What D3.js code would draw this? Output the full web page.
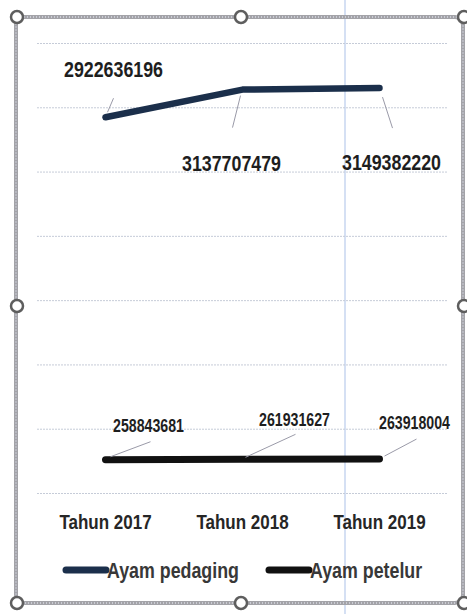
<!DOCTYPE html>
<html>
<head>
<meta charset="utf-8">
<script src="https://cdn.jsdelivr.net/npm/d3@7"></script>
<style>
  body { margin: 0; background: #fff; }
  text { font-family: "Liberation Sans Narrow", "Arial Narrow", "Liberation Sans", sans-serif; font-weight: bold; }
</style>
</head>
<body>
<div id="container"></div>
<script>
/* DATA */
const categories = ["Tahun 2017", "Tahun 2018", "Tahun 2019"];
const pedaging = [2922636196, 3137707479, 3149382220];
const petelur = [258843681, 261931627, 263918004];
const seriesNames = ["Ayam pedaging", "Ayam petelur"];

/* CONSTANTS */
const width = 467, height = 614,
      margin = { top: 43, bottom: 121, left: 37, right: 19 };
// no narrow font installed, so squeeze the text horizontally
const squeeze = 0.81

const svg = d3.select("#container")
  .append("svg")
  .attr("width", width)
  .attr("height", height)

// scales
const x = d3.scaleBand()
  .domain(categories)
  .range([margin.left, width - margin.right])

const y = d3.scaleLinear()
  .domain([0, 3500000000])
  .range([height - margin.bottom, margin.top])

const px = d => x(d) + x.bandwidth() / 2

// spreadsheet column line behind the chart
svg.append("line")
  .attr("x1", 345).attr("x2", 345)
  .attr("y1", 0).attr("y2", height)
  .attr("stroke", "#b9cbec")
  .attr("stroke-width", 1.2)

// gridlines
svg.append("g")
  .attr("transform", `translate(${margin.left},0)`)
  .call(d3.axisLeft(y).ticks(7).tickSize(-(width - margin.left - margin.right)).tickFormat(""))
  .call(g => g.select(".domain").remove())
  .call(g => g.selectAll("line")
    .attr("stroke", "#c6ccd8")
    .attr("stroke-dasharray", "2,1"))

// x axis labels
svg.append("g")
  .attr("transform", `translate(0,${height - margin.bottom})`)
  .call(d3.axisBottom(x).tickSize(0).tickPadding(21))
  .call(g => g.select(".domain").remove())
  .call(g => g.selectAll("text")
    .attr("font-size", "21px")
    .attr("fill", "#262626")
    .attr("transform", `scale(${squeeze},1)`))

const line = d3.line()
  .x((d, i) => px(categories[i]))
  .y(d => y(d))

// Ayam pedaging
svg.append("path")
  .datum(pedaging)
  .attr("d", line)
  .attr("fill", "none")
  .attr("stroke", "#1b2f4b")
  .attr("stroke-width", 6.5)
  .attr("stroke-linecap", "round")
  .attr("stroke-linejoin", "round")

// Ayam petelur
svg.append("path")
  .datum(petelur)
  .attr("d", line)
  .attr("fill", "none")
  .attr("stroke", "#111")
  .attr("stroke-width", 7)
  .attr("stroke-linecap", "round")

// data labels with leader lines
const pedOffsets = [
  { dx: 8, dy: -40, l: [[8, -19], [2, -5]] },
  { dx: -11, dy: 81, l: [[-2, 6], [-10, 38]] },
  { dx: 12, dy: 82, l: [[3, 9], [13, 40]] }
]
const petOffsets = [
  { dx: 43, dy: -28, l: [[5, -3], [45, -18]] },
  { dx: 52, dy: -33, l: [[3, -2], [53, -25]] },
  { dx: 35, dy: -30, l: [[5, -3], [37, -20]] }
]

function labels(values, offsets, size) {
  values.forEach((v, i) => {
    const cx = px(categories[i]), cy = y(v), o = offsets[i]
    svg.append("line")
      .attr("x1", cx + o.l[0][0]).attr("y1", cy + o.l[0][1])
      .attr("x2", cx + o.l[1][0]).attr("y2", cy + o.l[1][1])
      .attr("stroke", "#9a9aa8")
      .attr("stroke-width", 1)
    svg.append("text")
      .attr("transform", `translate(${cx + o.dx},${cy + o.dy}) scale(${squeeze},1)`)
      .attr("text-anchor", "middle")
      .attr("font-size", size)
      .attr("fill", "#1e1e1e")
      .text(v)
  })
}
labels(pedaging, pedOffsets, "22px")
labels(petelur, petOffsets, "17.5px")

// legend
const legend = svg.append("g").attr("transform", "translate(0,570)")
const legendX = [66, 269]
const legendColors = ["#1b2f4b", "#111"]
seriesNames.forEach((name, i) => {
  legend.append("line")
    .attr("x1", legendX[i]).attr("x2", legendX[i] + 40)
    .attr("y1", 0).attr("y2", 0)
    .attr("stroke", legendColors[i])
    .attr("stroke-width", 7)
    .attr("stroke-linecap", "round")
  legend.append("text")
    .attr("transform", `translate(${legendX[i] + 41},8) scale(${squeeze},1)`)
    .attr("font-size", "22px")
    .attr("fill", "#383838")
    .text(name)
})

// chart frame + selection handles
svg.append("rect")
  .attr("x", 16).attr("y", 17)
  .attr("width", 447).attr("height", 586)
  .attr("rx", 8)
  .attr("fill", "none")
  .attr("stroke", "#a3a3a8")
  .attr("stroke-width", 4)
svg.append("rect")
  .attr("x", 16).attr("y", 17)
  .attr("width", 447).attr("height", 586)
  .attr("rx", 8)
  .attr("fill", "none")
  .attr("stroke", "#d8dae4")
  .attr("stroke-width", 1.5)
  .attr("stroke-dasharray", "1,2")

const handles = [[17, 17], [241, 17], [464, 17], [17, 306], [464, 306], [17, 603], [241, 603], [464, 603]]
svg.selectAll("circle.handle")
  .data(handles)
  .join("circle")
  .attr("class", "handle")
  .attr("cx", d => d[0])
  .attr("cy", d => d[1])
  .attr("r", 6)
  .attr("fill", "#fff")
  .attr("stroke", "#5e5e5e")
  .attr("stroke-width", 2.5)
</script>
</body>
</html>
